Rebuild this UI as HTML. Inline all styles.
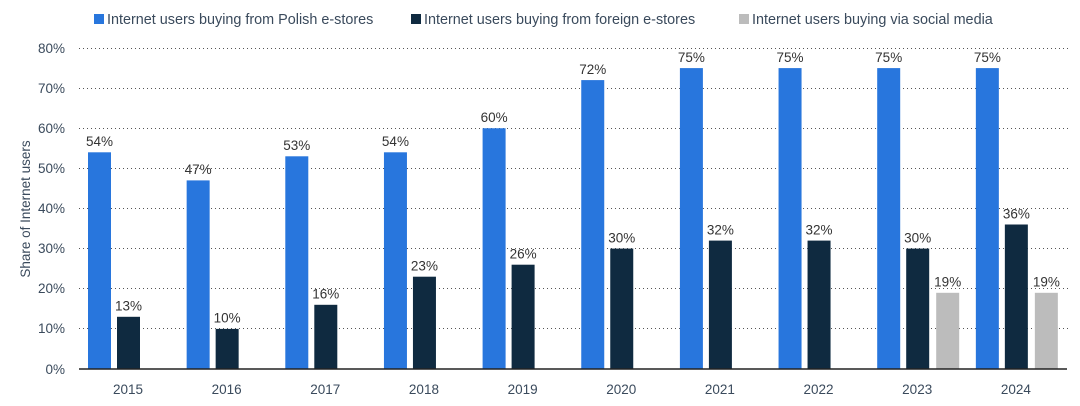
<!DOCTYPE html>
<html><head><meta charset="utf-8"><style>
body{margin:0;background:#fff}
svg{display:block;font-family:"Liberation Sans",sans-serif}
.t{font-size:13.5px;fill:#3a4a5c}
.v{font-size:13.5px;fill:#333;text-anchor:middle}
</style></head><body>
<svg width="1080" height="406" viewBox="0 0 1080 406">
<g>
<rect x="94" y="14" width="10" height="10" fill="#2876dd"/><text x="107" y="24" style="font-size:14.4px;fill:#3a4a5c">Internet users buying from Polish e-stores</text>
<rect x="411" y="14" width="10" height="10" fill="#0f2a40"/><text x="424" y="24" style="font-size:14.4px;fill:#3a4a5c">Internet users buying from foreign e-stores</text>
<rect x="739" y="14" width="10" height="10" fill="#bcbcbc"/><text x="752" y="24" style="font-size:14.4px;fill:#3a4a5c">Internet users buying via social media</text>
</g>
<g stroke="#555" stroke-width="1" stroke-dasharray="1,3">
<line x1="79" x2="1068" y1="48.5" y2="48.5"/><line x1="79" x2="1068" y1="88.5" y2="88.5"/>
<line x1="79" x2="1068" y1="128.5" y2="128.5"/><line x1="79" x2="1068" y1="168.5" y2="168.5"/>
<line x1="79" x2="1068" y1="208.5" y2="208.5"/><line x1="79" x2="1068" y1="248.5" y2="248.5"/>
<line x1="79" x2="1068" y1="288.5" y2="288.5"/><line x1="79" x2="1068" y1="328.5" y2="328.5"/>
</g>
<g class="t" text-anchor="end">
<text x="65" y="53">80%</text><text x="65" y="93">70%</text><text x="65" y="133">60%</text>
<text x="65" y="173">50%</text><text x="65" y="213">40%</text><text x="65" y="253">30%</text>
<text x="65" y="293">20%</text><text x="65" y="333">10%</text><text x="65" y="374">0%</text>
</g>
<text class="t" transform="translate(30,209) rotate(-90)" text-anchor="middle">Share of Internet users</text>
<g fill="#2876dd">
<rect x="88" y="152.3" width="23" height="216.7"/><rect x="186.65" y="180.4" width="23" height="188.6"/>
<rect x="285.3" y="156.3" width="23" height="212.7"/><rect x="383.95" y="152.3" width="23" height="216.7"/>
<rect x="482.6" y="128.25" width="23" height="240.75"/><rect x="581.25" y="80.1" width="23" height="288.9"/>
<rect x="679.9" y="68.1" width="23" height="300.9"/><rect x="778.55" y="68.1" width="23" height="300.9"/>
<rect x="877.2" y="68.1" width="23" height="300.9"/><rect x="975.85" y="68.1" width="23" height="300.9"/>
</g>
<g fill="#0f2a40">
<rect x="117" y="316.8" width="23" height="52.2"/><rect x="215.65" y="328.9" width="23" height="40.1"/>
<rect x="314.3" y="304.8" width="23" height="64.2"/><rect x="412.95" y="276.7" width="23" height="92.3"/>
<rect x="511.6" y="264.7" width="23" height="104.3"/><rect x="610.25" y="248.6" width="23" height="120.4"/>
<rect x="708.9" y="240.6" width="23" height="128.4"/><rect x="807.55" y="240.6" width="23" height="128.4"/>
<rect x="906.2" y="248.6" width="23" height="120.4"/><rect x="1004.85" y="224.5" width="23" height="144.5"/>
</g>
<g fill="#bcbcbc">
<rect x="936.2" y="292.8" width="23" height="76.2"/><rect x="1034.85" y="292.8" width="23" height="76.2"/>
</g>
<line x1="79" x2="1067" y1="369" y2="369" stroke="#222" stroke-width="1.5"/>
<g class="v">
<text x="99.5" y="146">54%</text><text x="198.15" y="174">47%</text><text x="296.8" y="150">53%</text>
<text x="395.45" y="146">54%</text><text x="494.1" y="122">60%</text><text x="592.75" y="74">72%</text>
<text x="691.4" y="62">75%</text><text x="790.05" y="62">75%</text><text x="888.7" y="62">75%</text><text x="987.35" y="62">75%</text>
<text x="128.5" y="310.5">13%</text><text x="227.15" y="322.5">10%</text><text x="325.8" y="298.5">16%</text>
<text x="424.45" y="270.5">23%</text><text x="523.1" y="258.5">26%</text><text x="621.75" y="242.5">30%</text>
<text x="720.4" y="234.5">32%</text><text x="819.05" y="234.5">32%</text><text x="917.7" y="242.5">30%</text><text x="1016.35" y="218.5">36%</text>
<text x="947.7" y="286.5">19%</text><text x="1046.35" y="286.5">19%</text>
</g>
<g class="t" text-anchor="middle">
<text x="128" y="394">2015</text><text x="226.65" y="394">2016</text><text x="325.3" y="394">2017</text>
<text x="423.95" y="394">2018</text><text x="522.6" y="394">2019</text><text x="621.25" y="394">2020</text>
<text x="719.9" y="394">2021</text><text x="818.55" y="394">2022</text><text x="917.2" y="394">2023</text><text x="1015.85" y="394">2024</text>
</g>
</svg>
</body></html>
